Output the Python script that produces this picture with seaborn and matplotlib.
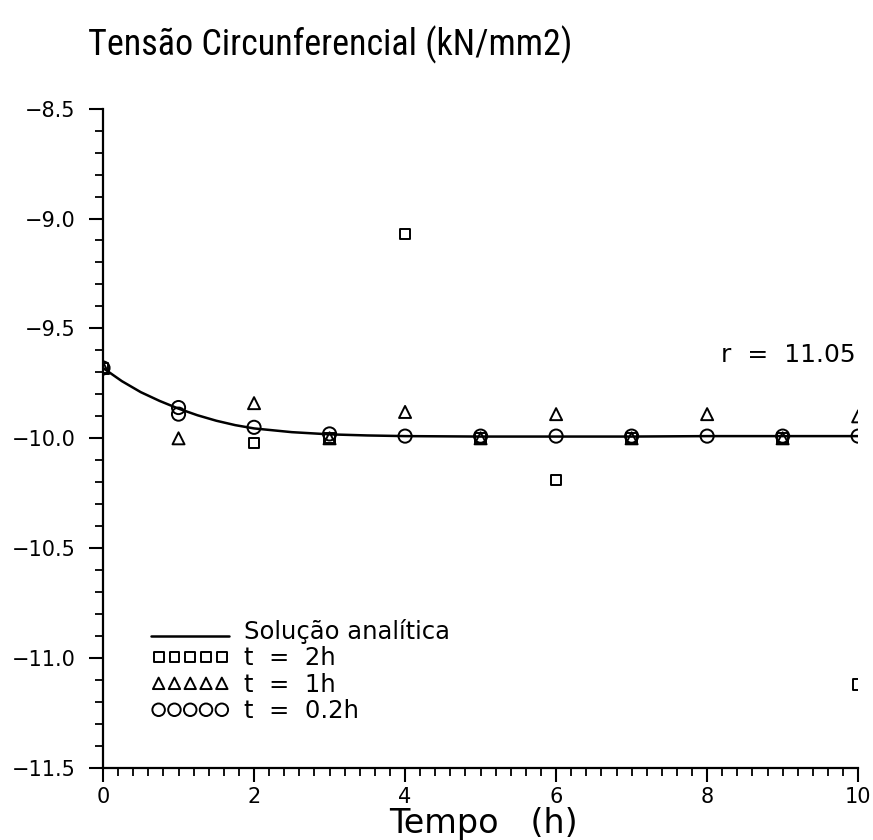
import numpy as np
import pandas as pd
import matplotlib
matplotlib.use("Agg")
import matplotlib.pyplot as plt
from matplotlib import font_manager
from matplotlib.legend_handler import HandlerLine2D
from matplotlib.ticker import MultipleLocator, FuncFormatter
import seaborn as sns

# Analytic solution
t_curve = [0.0, 0.25, 0.5, 0.75, 1.0, 1.25, 1.5, 1.75, 2.0, 2.5, 3.0, 3.5, 4.0, 5.0, 6.0, 7.0, 8.0, 9.0, 10.0]
s_curve = [-9.68, -9.74, -9.79, -9.83, -9.865, -9.895, -9.92, -9.94, -9.955, -9.972, -9.982, -9.987,
           -9.99, -9.992, -9.992, -9.992, -9.99, -9.99, -9.99]

# t = 2h (squares)
t_sq = [0, 2, 3, 4, 5, 6, 7, 9, 10]
s_sq = [-9.68, -10.02, -10.0, -9.07, -10.0, -10.19, -10.0, -10.0, -11.12]

# t = 1h (triangles)
t_tri = [0, 1, 2, 3, 4, 5, 6, 7, 8, 9, 10]
s_tri = [-9.68, -10.0, -9.84, -10.0, -9.88, -10.0, -9.89, -10.0, -9.89, -10.0, -9.9]

# t = 0.2h (circles)
t_circ = [0, 1, 1, 2, 3, 4, 5, 6, 7, 8, 9, 10]
s_circ = [-9.68, -9.86, -9.89, -9.95, -9.98, -9.99, -9.99, -9.99, -9.99, -9.99, -9.99, -9.99]

sns.set_style("ticks")
plt.rcParams["font.family"] = ["DejaVu Sans"]
plt.rcParams["text.color"] = "black"
plt.rcParams["axes.labelcolor"] = "black"

# narrow font for the title if one is installed
installed = {f.name for f in font_manager.fontManager.ttflist}
title_font = "DejaVu Sans"
for name in ["Roboto Condensed", "Liberation Sans Narrow", "Open Sans Condensed", "Liberation Sans"]:
    if name in installed:
        title_font = name
        break


# legend line drawn low, like an underline next to its label
class LowLine(HandlerLine2D):
    def create_artists(self, legend, orig_handle, xdescent, ydescent, width, height, fontsize, trans):
        artists = super().create_artists(legend, orig_handle, xdescent, ydescent, width, height,
                                         fontsize, trans)
        for a in artists:
            y = a.get_ydata()
            a.set_ydata([v - 0.35 * height for v in y])
        return artists


fig = plt.figure(figsize=(8.73, 8.4), dpi=100)
ax = fig.add_axes([0.118, 0.0857, 0.865, 0.785])

sns.lineplot(x=t_curve, y=s_curve, ax=ax, color="black", linewidth=1.8,
             label="Solução analítica")
sns.scatterplot(x=t_sq, y=s_sq, ax=ax, marker="s", s=55, facecolor="none",
                edgecolor="black", linewidth=1.4, label="t  =  2h")
sns.scatterplot(x=t_tri, y=s_tri, ax=ax, marker="^", s=75, facecolor="none",
                edgecolor="black", linewidth=1.4, label="t  =  1h")
sns.scatterplot(x=t_circ, y=s_circ, ax=ax, marker="o", s=90, facecolor="none",
                edgecolor="black", linewidth=1.4, label="t  =  0.2h")

ax.set_xlim(0, 10)
ax.set_ylim(-11.5, -8.5)
ax.xaxis.set_major_locator(MultipleLocator(2))
ax.xaxis.set_minor_locator(MultipleLocator(0.2))
ax.yaxis.set_major_locator(MultipleLocator(0.5))
ax.yaxis.set_minor_locator(MultipleLocator(0.1))
ax.yaxis.set_major_formatter(FuncFormatter(lambda v, p: f"{v:.1f}".replace("-", "\u2212")))
ax.xaxis.set_major_formatter(FuncFormatter(lambda v, p: f"{v:.0f}"))

sns.despine(ax=ax)
for side in ["left", "bottom"]:
    ax.spines[side].set_linewidth(1.6)
    ax.spines[side].set_color("black")
ax.tick_params(which="major", length=10, width=1.5, labelsize=15, colors="black")
ax.tick_params(which="minor", length=6, width=1.3, colors="black")
ax.tick_params(axis="y", which="major", pad=10)
ax.tick_params(axis="x", which="major", pad=4)
ax.set_xlabel("")
ax.set_ylabel("")

handles, labels = ax.get_legend_handles_labels()
leg = ax.legend(handles, labels, loc="upper left", bbox_to_anchor=(0.064, 0.226), frameon=False,
                fontsize=17.5, scatterpoints=5, handlelength=3.2, handletextpad=0.6,
                labelspacing=0.1, borderpad=0, borderaxespad=0, scatteryoffsets=[0.5],
                markerscale=0.95, handler_map={handles[0]: LowLine()})

ax.text(0.996, 0.626, "r  =  11.05", transform=ax.transAxes, ha="right", va="center",
        fontsize=18)

fig.text(88 / 873, 1 - 55 / 840, "Tensão Circunferencial (kN/mm2)", ha="left",
         va="baseline", fontsize=26, family=title_font)
fig.text(483 / 873, 1 - 833 / 840, "Tempo   (h)", ha="center", va="baseline", fontsize=24)

fig.savefig("out.png", dpi=100)
